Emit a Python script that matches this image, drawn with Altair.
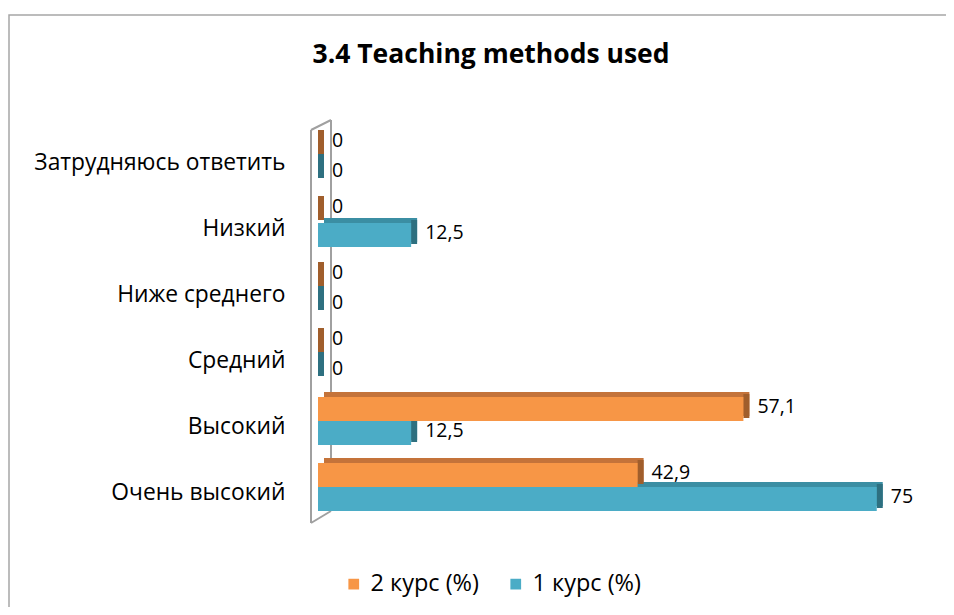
import altair as alt
import pandas as pd

# ---- data ----
categories = ["Затрудняюсь ответить", "Низкий", "Ниже среднего", "Средний", "Высокий", "Очень высокий"]
series_names = ["2 курс (%)", "1 курс (%)"]
course2 = [0, 0, 0, 0, 57.1, 42.9]
course1 = [0, 12.5, 0, 0, 12.5, 75]

front_colors = ["#F79646", "#4BACC6"]
top_colors = ["#C4733A", "#3B8EA3"]
side_colors = ["#A05E2C", "#2E7080"]

FONT = "Open Sans"
TITLE = "3.4 Teaching methods used"


def fmt(v):
    return f"{v:g}".replace(".", ",")


rows = []
for cat, a, b in zip(categories, course2, course1):
    rows.append(dict(category=cat, series=series_names[0], value=a, label=fmt(a)))
    rows.append(dict(category=cat, series=series_names[1], value=b, label=fmt(b)))
df = pd.DataFrame(rows)

W, H = 596, 396

y_enc = alt.Y(
    "category:N",
    sort=categories,
    scale=alt.Scale(paddingInner=0, paddingOuter=0),
    axis=alt.Axis(
        title=None, domain=False, ticks=False, grid=False,
        labelPadding=33, labelFontSize=22.8, labelFont=FONT, labelLimit=400,
        labelColor="#000000", labelOffset=6,
    ),
)
x_enc = alt.X("value:Q", scale=alt.Scale(domain=[0, 80], nice=False, zero=True), axis=None)

base = alt.Chart(df)

layers = []

# decoration: outer frame, 3D wall, title text
blank = alt.Data(values=[{"t": TITLE}])
frame = alt.Chart(blank).mark_rect(fill=None, stroke="#A6A6A6", strokeWidth=1.5).encode(
    x=alt.value(-309), x2=alt.value(700), y=alt.value(-109), y2=alt.value(700)
)
title = alt.Chart(blank).mark_text(font=FONT, fontSize=26.5, fontWeight="bold", align="center",
                                   baseline="middle", color="#000000").encode(
    x=alt.value(173), y=alt.value(-69), text="t:N")
wall_color = "#A0A0A0"
wall = [
    alt.Chart(blank).mark_rule(color=wall_color, strokeWidth=2).encode(
        x=alt.value(-7), x2=alt.value(-7), y=alt.value(6), y2=alt.value(399)),
    alt.Chart(blank).mark_rule(color=wall_color, strokeWidth=2).encode(
        x=alt.value(13), x2=alt.value(13), y=alt.value(-4), y2=alt.value(387)),
    alt.Chart(blank).mark_rule(color=wall_color, strokeWidth=2).encode(
        x=alt.value(-7), x2=alt.value(13), y=alt.value(6), y2=alt.value(-4)),
    alt.Chart(blank).mark_rule(color=wall_color, strokeWidth=2).encode(
        x=alt.value(-7), x2=alt.value(13), y=alt.value(399), y2=alt.value(387)),
]
layers.append(frame)
layers.append(title)
layers.extend(wall)

# draw the lower series (1 курс) first so the upper bars sit in front of its top face
for i in [1, 0]:
    name = series_names[i]
    oy = -12 if i == 0 else 12
    zero_shift = -3 if i == 0 else 3
    sub = base.transform_filter(alt.datum.series == name)
    back = sub.mark_bar(size=24, color=top_colors[i], xOffset=6, x2Offset=6, yOffset=oy - 5).encode(
        x=x_enc, x2=alt.datum(0), y=y_enc)
    side = sub.mark_bar(size=24, color=side_colors[i], xOffset=0, x2Offset=6, yOffset=oy - 3).encode(
        x=x_enc, x2="value:Q", y=y_enc)
    front = sub.mark_bar(size=24, yOffset=oy).encode(
        x=x_enc, y=y_enc,
        color=alt.Color(
            "series:N",
            scale=alt.Scale(domain=series_names, range=front_colors),
            legend=alt.Legend(
                title=None, orient="none", legendX=24, legendY=448, direction="horizontal",
                symbolType="square", symbolSize=115, symbolStrokeWidth=0, labelOffset=5,
                labelFontSize=23.5, labelFont=FONT, labelColor="#000000", columnPadding=25,
            ),
        ),
    )
    text_nz = sub.transform_filter(alt.datum.value != 0).mark_text(
        align="left", baseline="middle", dx=14, yOffset=oy - 2,
        fontSize=19.5, font=FONT, color="#000000").encode(
        x=x_enc, y=y_enc, text="label:N")
    text_z = sub.transform_filter(alt.datum.value == 0).mark_text(
        align="left", baseline="middle", dx=14, yOffset=oy - 1 + zero_shift,
        fontSize=19.5, font=FONT, color="#000000").encode(
        x=x_enc, y=y_enc, text="label:N")
    layers.extend([back, side, front, text_nz, text_z])

chart = alt.layer(*layers).properties(
    width=W, height=H,
    autosize=alt.AutoSizeParams(type="none"),
    padding={"left": 310, "top": 116, "right": 32, "bottom": 87},
).configure(background="white").configure_view(strokeWidth=0)

chart.save("out.html", embed_options={"renderer": "svg", "actions": False})
